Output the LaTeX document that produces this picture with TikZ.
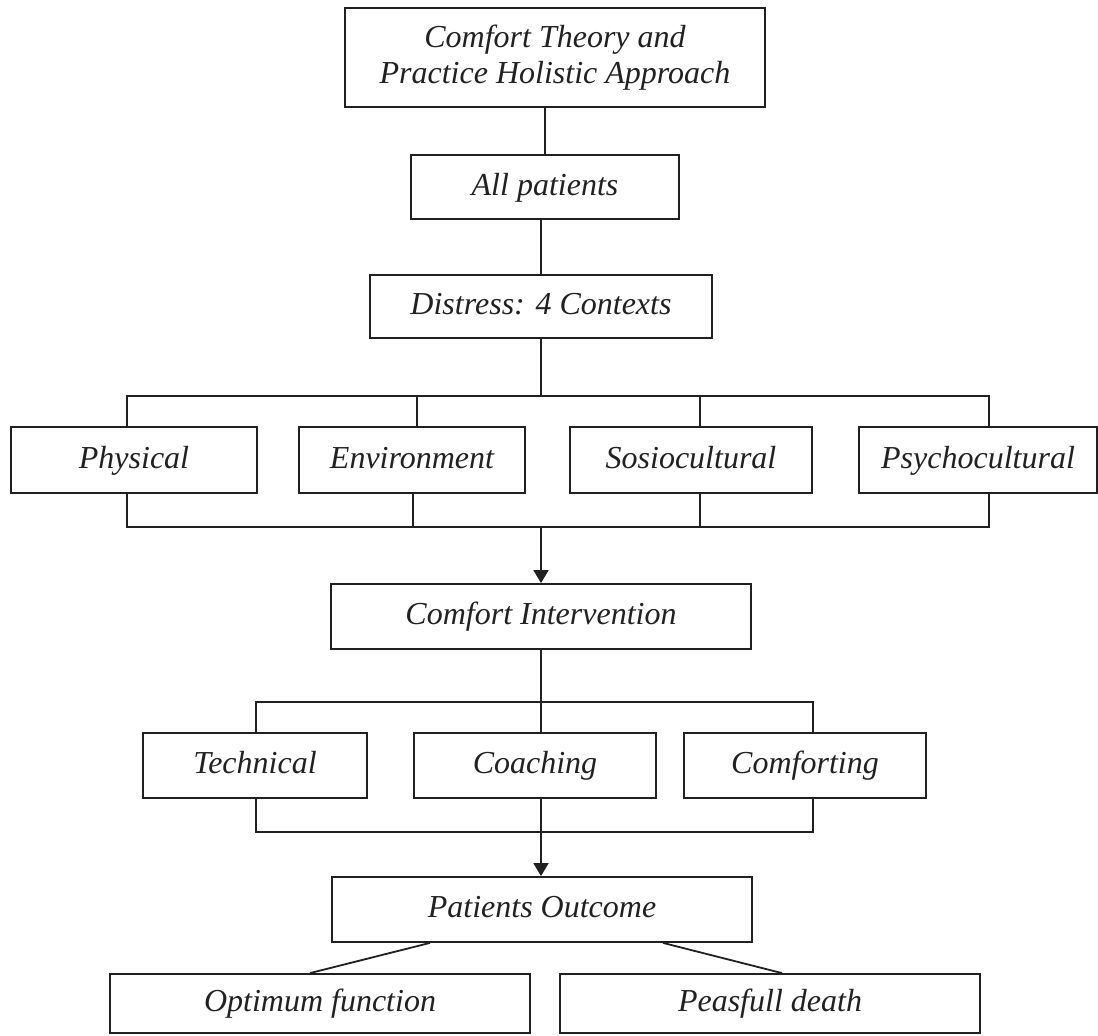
\documentclass[tikz,border=0pt]{standalone}
\usepackage{fontspec}
\setmainfont{Liberation Serif}
\usetikzlibrary{arrows.meta}
\definecolor{ink}{gray}{0.13}
\begin{document}
\begin{tikzpicture}[x=1pt,y=-1pt,
  box/.style={draw=ink, line width=1.8pt, text=ink, inner sep=0pt,
    text height=22pt, text depth=6pt,
    font=\fontsize{32}{36}\selectfont\itshape, align=center},
  link/.style={draw=ink, line width=1.8pt},
  arr/.style={link, -{Triangle[length=13pt,width=15pt]}}]
\useasboundingbox (0,0) rectangle (1098,1036);

% main column
\node[box, minimum width=420pt, minimum height=99pt, text height=, text depth=] (top) at (555,57.5)
  {Comfort Theory and\\Practice Holistic Approach};
\node[box, minimum width=268pt, minimum height=64pt] (allp) at (545,187) {All patients};
\node[box, minimum width=342pt, minimum height=63pt] (distress) at (541,306.5) {Distress: 4 Contexts};

% four contexts
\node[box, minimum width=246pt, minimum height=66pt] (phys)   at (134,460) {Physical};
\node[box, minimum width=226pt, minimum height=66pt] (env)    at (412,460) {Environment};
\node[box, minimum width=242pt, minimum height=66pt] (socio)  at (691,460) {Sosiocultural};
\node[box, minimum width=238pt, minimum height=66pt] (psycho) at (978,460) {Psychocultural};

\node[box, minimum width=420pt, minimum height=65pt] (ci) at (541,616.5) {Comfort Intervention};

% three interventions
\node[box, minimum width=224pt, minimum height=65pt] (tech)  at (255,765.5) {Technical};
\node[box, minimum width=242pt, minimum height=65pt] (coach) at (535,765.5) {Coaching};
\node[box, minimum width=242pt, minimum height=65pt] (comf)  at (805,765.5) {Comforting};

\node[box, minimum width=420pt, minimum height=65pt] (po) at (542,909.5) {Patients Outcome};

% outcomes
\node[box, minimum width=420pt, minimum height=59pt] (opt)   at (320,1003.5) {Optimum function};
\node[box, minimum width=420pt, minimum height=59pt] (peace) at (770,1003.5) {Peasfull death};

% top connectors
\draw[link] (top.south -| allp.north) -- (allp.north);
\draw[link] (allp.south -| distress.north) -- (distress.north);

% upper bracket of the contexts
\coordinate (ua) at (127,396);
\coordinate (u2) at (417,396);
\coordinate (u3) at (700,396);
\coordinate (ub) at (989,396);
\draw[link] (distress.south) -- (distress.south |- ua);
\draw[link] (ua |- phys.north) -- (ua) -- (ub) -- (ub |- psycho.north);
\draw[link] (u2) -- (u2 |- env.north);
\draw[link] (u3) -- (u3 |- socio.north);

% lower bracket of the contexts
\coordinate (la) at (127,527);
\coordinate (l2) at (413,527);
\coordinate (l3) at (700,527);
\coordinate (lb) at (989,527);
\draw[link] (la |- phys.south) -- (la) -- (lb) -- (lb |- psycho.south);
\draw[link] (l2 |- env.south) -- (l2);
\draw[link] (l3 |- socio.south) -- (l3);
\draw[arr] (ci.north |- la) -- (ci.north);

% upper bracket of the interventions
\coordinate (ma) at (256,702);
\coordinate (mc) at (541,702);
\coordinate (mb) at (813,702);
\draw[link] (ma |- tech.north) -- (ma) -- (mb) -- (mb |- comf.north);
\draw[link] (mc |- ci.south) -- (mc |- coach.north);

% lower bracket of the interventions
\coordinate (na) at (256,832);
\coordinate (nc) at (541,832);
\coordinate (nb) at (813,832);
\draw[link] (na |- tech.south) -- (na) -- (nb) -- (nb |- comf.south);
\draw[arr] (nc |- coach.south) -- (nc |- po.north);

% outcome branches
\draw[link] ([xshift=-112pt]po.south) -- ([xshift=-10pt]opt.north);
\draw[link] ([xshift=121pt]po.south) -- ([xshift=12pt]peace.north);
\end{tikzpicture}
\end{document}
